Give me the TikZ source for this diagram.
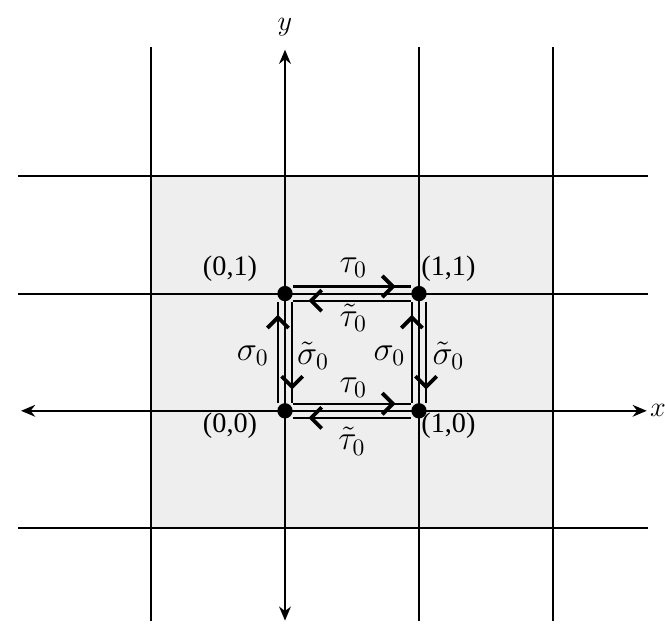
\documentclass[tikz,border=0pt]{standalone}
\usepackage{amsmath}
\usepackage{fontspec}
\setmainfont{Liberation Serif}
\usetikzlibrary{arrows.meta,decorations.markings}

\tikzset{
  grid/.style={line width=0.9pt},
  axis/.style={line width=0.9pt, {Stealth[length=6pt,width=5pt]}-{Stealth[length=6pt,width=5pt]}},
  dot/.style={circle, fill=black, inner sep=0pt, minimum size=6.5pt},
  flow/.style={line width=0.9pt, postaction={decorate},
    decoration={markings, mark=at position #1 with {\arrow[line width=1.6pt]{Straight Barb[length=4.5pt,width=9pt]}}}},
  flow/.default=0.87,
  lab/.style={inner sep=1pt},
  sym/.style={inner sep=1pt, font=\Large}
}

\begin{document}
\begin{tikzpicture}[x=2cm,y=1.75cm,font=\large]
        \useasboundingbox (-2.127,-1.846) rectangle (2.836,3.504);

        % shaded block of cells
        \fill[gray!13] (-1,-1) rectangle (2,2);

        % grid lines
        \foreach \x in {-1,1,2} {
          \draw[grid] (\x,-1.79) -- (\x,3.10);
        }
        \foreach \y in {-1,1,2} {
          \draw[grid] (-1.99,\y) -- (2.71,\y);
        }

        % axes
        \draw[axis] (0,-1.79) -- (0,3.08) node[above=2pt] {$y$};
        \draw[axis] (-1.97,0) -- (2.70,0) node[right=0pt, inner sep=1pt] {$x$};

        % corners of the unit cell
        \node[dot] (p00) at (0,0) {};
        \node[dot] (p10) at (1,0) {};
        \node[dot] (p11) at (1,1) {};
        \node[dot] (p01) at (0,1) {};

        % edge flows
        \draw[flow] ([yshift=3pt]p01.east) -- ([yshift=3pt]p11.west);
        \draw[flow] ([yshift=-3pt]p11.west) -- ([yshift=-3pt]p01.east);
        \draw[flow] ([yshift=3pt]p00.east) -- ([yshift=3pt]p10.west);
        \draw[flow] ([yshift=-3pt]p10.west) -- ([yshift=-3pt]p00.east);
        \draw[flow] ([xshift=-3pt]p00.north) -- ([xshift=-3pt]p01.south);
        \draw[flow] ([xshift=3pt]p01.south) -- ([xshift=3pt]p00.north);
        \draw[flow] ([xshift=-3pt]p10.north) -- ([xshift=-3pt]p11.south);
        \draw[flow] ([xshift=3pt]p11.south) -- ([xshift=3pt]p10.north);

        % corner labels
        \node[lab] (l01) at (-0.41,1.21) {(0,1)};
        \node[lab] (l11) at (1.22,1.21) {(1,1)};
        \node[lab] (l00) at (-0.41,-0.13) {(0,0)};
        \node[lab] (l10) at (1.22,-0.13) {(1,0)};

        % flow labels
        \node[sym] (tauT)  at (0.51,1.22)  {$\tau_0$};
        \node[sym] (ttauT) at (0.51,0.79)  {$\tilde{\tau}_0$};
        \node[sym] (tauB)  at (0.51,0.20)  {$\tau_0$};
        \node[sym] (ttauB) at (0.50,-0.26) {$\tilde{\tau}_0$};
        \node[sym] (sigL)  at (-0.24,0.47) {$\sigma_0$};
        \node[sym] (tsigL) at (0.21,0.47)  {$\tilde{\sigma}_0$};
        \node[sym] (sigR)  at (0.78,0.47)  {$\sigma_0$};
        \node[sym] (tsigR) at (1.22,0.47)  {$\tilde{\sigma}_0$};
\end{tikzpicture}
\end{document}
